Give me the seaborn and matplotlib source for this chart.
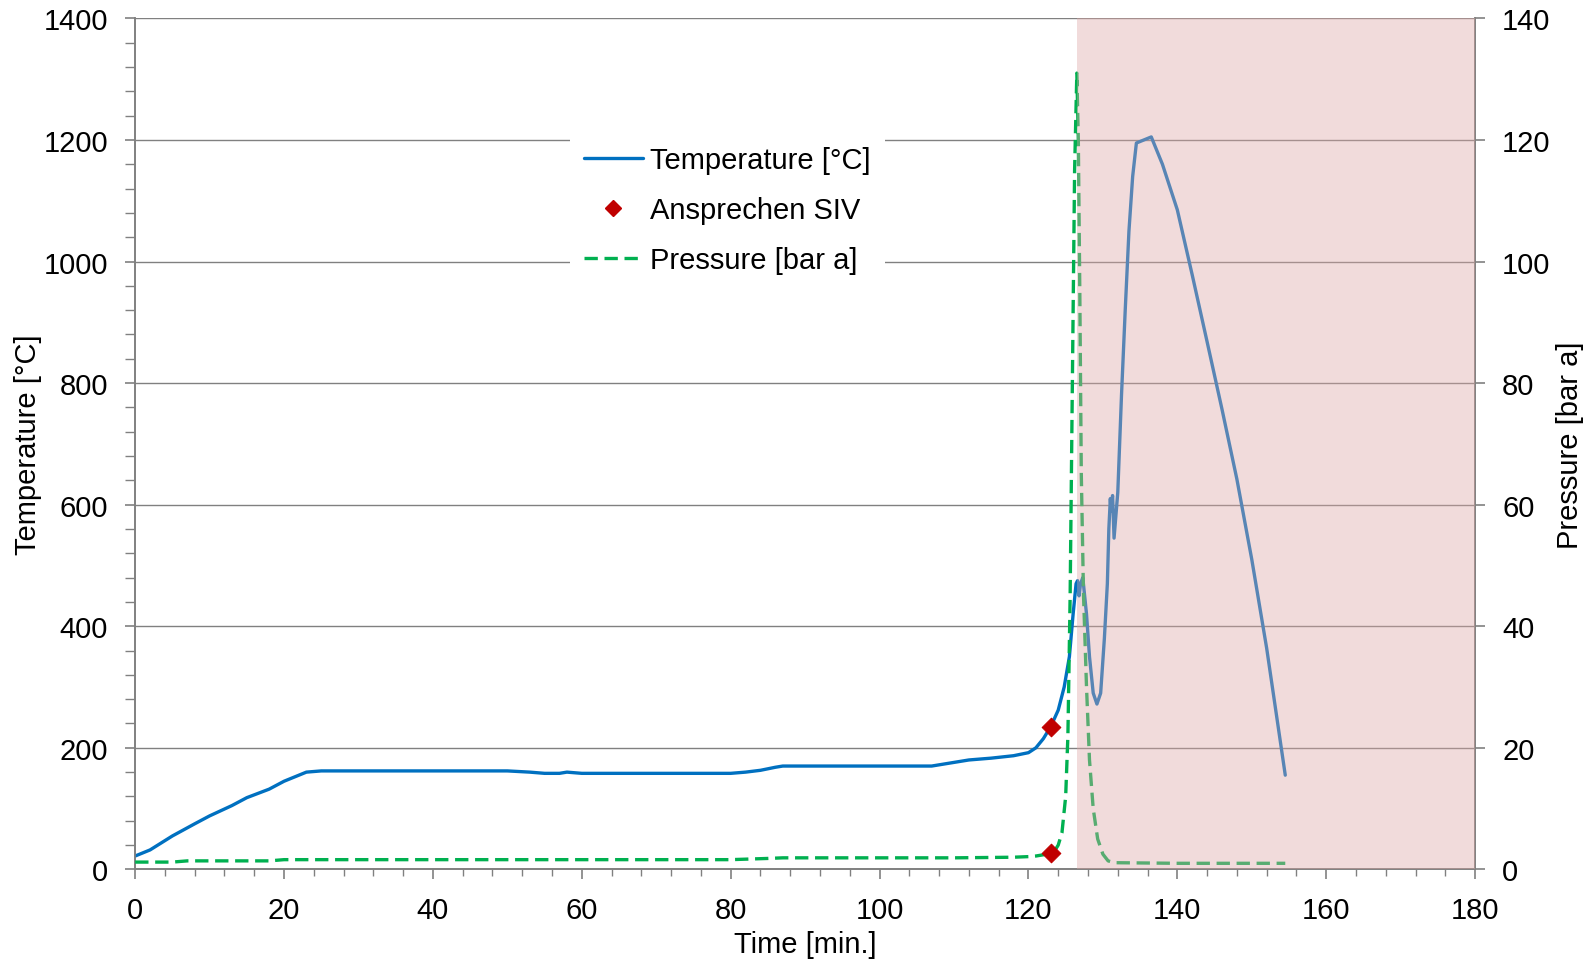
import numpy as np
import pandas as pd
import matplotlib.pyplot as plt
import seaborn as sns
from matplotlib.ticker import MultipleLocator
from matplotlib.lines import Line2D
plt.switch_backend("Agg")

# temperature curve [min, °C]
temp_time = [0, 2, 5, 8, 10, 13, 15, 18, 20, 22, 23, 25, 30, 40, 50, 53, 55, 57, 58, 60,
             70, 80, 82, 84, 86, 87, 90, 100, 105, 107, 110, 112, 115, 118, 120, 121, 122,
             123, 124, 124.8, 125.5, 126.0, 126.4, 126.6, 126.8, 127.0, 127.3, 127.8, 128.2,
             128.7, 129.2, 129.7, 130.2, 130.6, 130.8, 131.0, 131.1, 131.3, 131.5, 132.0,
             132.5, 133.0, 133.5, 134.0, 134.5, 136.5, 138, 140, 142, 144, 146, 148, 150,
             152, 154.5]
temp_val = [22, 32, 55, 75, 88, 105, 118, 132, 145, 155, 160, 162, 162, 162, 162, 160, 158,
            158, 160, 158, 158, 158, 160, 163, 168, 170, 170, 170, 170, 170, 176, 180, 183,
            187, 192, 200, 215, 235, 262, 300, 350, 420, 470, 475, 450, 470, 480, 420, 350,
            290, 272, 290, 380, 470, 560, 610, 590, 615, 545, 620, 780, 920, 1050, 1140,
            1195, 1205, 1160, 1085, 978, 868, 757, 642, 510, 364, 155]

# pressure curve [min, bar a]
pres_time = [0, 5, 7, 10, 18, 20, 40, 60, 80, 85, 87, 100, 107, 110, 118, 120, 121, 122, 123,
             123.5, 124, 124.5, 125, 125.3, 125.6, 125.9, 126.2, 126.5, 126.7, 126.9, 127.1,
             127.4, 127.8, 128.2, 128.7, 129.3, 130, 130.7, 131.5, 140, 154.5]
pres_val = [1.2, 1.2, 1.4, 1.4, 1.4, 1.6, 1.6, 1.6, 1.6, 1.8, 1.9, 1.9, 1.9, 1.9, 2.0, 2.1,
            2.2, 2.4, 2.7, 3.0, 4, 6, 12, 22, 45, 80, 115, 131, 120, 95, 65, 45, 30, 18, 10,
            5, 2.5, 1.4, 1.1, 1.0, 1.0]

# SIV response
siv_time = [123]
siv_temp = [235]
siv_pres = [2.7]

shade_start, shade_end = 126.5, 180

sns.set_style("white")
plt.rcParams["font.family"] = ["Liberation Sans", "DejaVu Sans"]
plt.rcParams["text.color"] = "black"
plt.rcParams["axes.labelcolor"] = "black"
fs = 21

df_t = pd.DataFrame({"time": temp_time, "temp": temp_val})
df_p = pd.DataFrame({"time": pres_time, "pres": pres_val})

fig = plt.figure(figsize=(15.94, 9.70), dpi=100)
ax = fig.add_axes([0.0848, 0.1027, 0.8406, 0.8773])
ax2 = ax.twinx()

blue = "#0070C0"
green = "#00B050"
red = "#C00000"
grey = "#808080"

sns.lineplot(data=df_t, x="time", y="temp", ax=ax, color=blue, lw=2.4, zorder=3,
             estimator=None, sort=False)
sns.scatterplot(x=siv_time, y=siv_temp, ax=ax, color=red, marker="D", s=90,
                edgecolor=red, zorder=4)
sns.lineplot(data=df_p, x="time", y="pres", ax=ax2, color=green, lw=2.4, zorder=3,
             estimator=None, sort=False, dashes=False, linestyle=(0, (4, 2)))
sns.scatterplot(x=siv_time, y=siv_pres, ax=ax2, color=red, marker="D", s=90,
                edgecolor=red, zorder=4)

ax2.axvspan(shade_start, shade_end, color="#DEA7A5", alpha=0.4, lw=0, zorder=6)

ax.set_xlim(0, 180)
ax.set_ylim(0, 1400)
ax2.set_ylim(0, 140)
ax.xaxis.set_major_locator(MultipleLocator(20))
ax.xaxis.set_minor_locator(MultipleLocator(4))
ax.yaxis.set_major_locator(MultipleLocator(200))
ax.yaxis.set_minor_locator(MultipleLocator(40))
ax2.yaxis.set_major_locator(MultipleLocator(20))

ax.grid(axis="y", which="major", color=grey, lw=1.0)
ax.set_axisbelow(True)

for a in (ax, ax2):
    a.spines["top"].set_visible(False)
    for s in ("left", "right", "bottom"):
        a.spines[s].set_color(grey)
        a.spines[s].set_linewidth(1.2)
ax.tick_params(which="both", direction="out", color=grey, labelsize=fs, labelcolor="black",
               left=True, bottom=True, pad=12)
ax.tick_params(which="major", length=7.5, width=1.2)
ax.tick_params(axis="y", which="minor", length=7.5, width=1.0)
ax.tick_params(axis="x", which="minor", length=5, width=1.0)
ax2.tick_params(which="major", direction="out", length=7.5, width=1.2, color=grey,
                labelsize=fs, labelcolor="black", right=True, pad=12)

ax.set_xlabel("Time [min.]", fontsize=fs, labelpad=4)
ax.set_ylabel("Temperature [°C]", fontsize=fs, labelpad=1)
ax2.set_ylabel("Pressure [bar a]", fontsize=fs, labelpad=4)

handles = [
    Line2D([], [], color=blue, lw=2.4),
    Line2D([], [], color=red, marker="D", ls="none", markersize=8),
    Line2D([], [], color=green, lw=2.4, ls=(0, (4, 2))),
]
labels = ["Temperature [°C]", "Ansprechen SIV", "Pressure [bar a]"]
leg = ax2.legend(handles, labels, loc="center", bbox_to_anchor=(0.442, 0.775),
                 fontsize=fs, frameon=True, facecolor="white", edgecolor="none",
                 framealpha=1, fancybox=False, handlelength=2.0, handletextpad=0.25,
                 labelspacing=0.75, borderpad=0.5, borderaxespad=0)
leg.set_zorder(10)

fig.savefig("out.png", dpi=100)
